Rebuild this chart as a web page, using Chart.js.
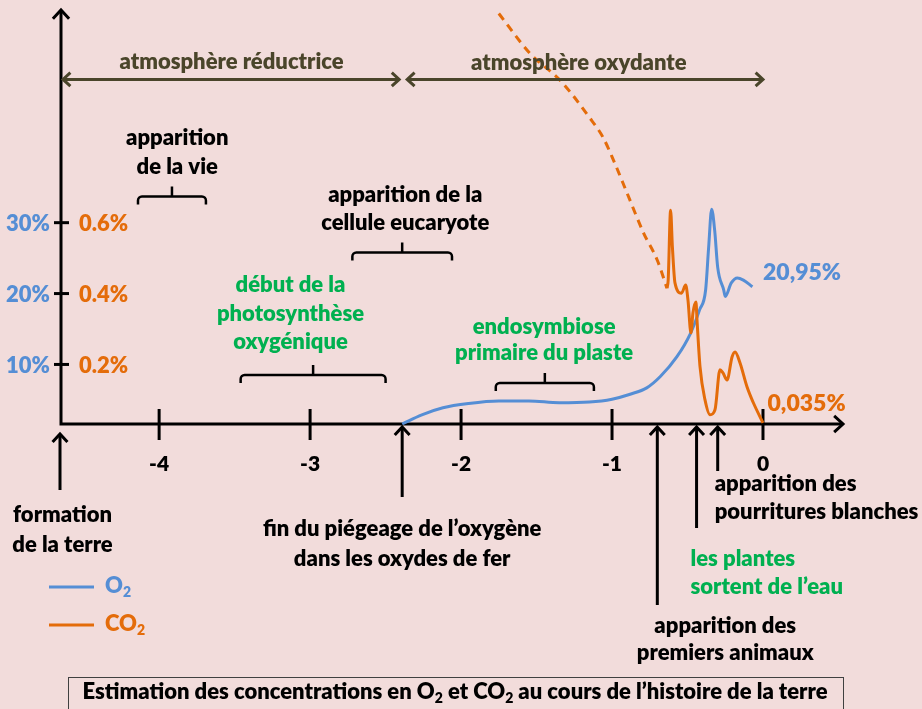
<!DOCTYPE html>
<html lang="fr">
<head>
<meta charset="utf-8">
<title>O2 et CO2 au cours de l’histoire de la terre</title>
<script src="https://cdn.jsdelivr.net/npm/chart.js@4.4.1/dist/chart.umd.min.js"></script>
<style>
  html, body { margin: 0; padding: 0; background: #f2dcdb; }
  canvas { display: block; }
</style>
</head>
<body>
<canvas id="histoireChart" width="922" height="709"></canvas>
<script>
// Ages in billions of years (Ga), O2 in % of atmosphere, CO2 in % of atmosphere
const ageTicks = [-4, -3, -2, -1, 0];
const o2Ticks = [10, 20, 30];
const o2TickLabels = ['10%', '20%', '30%'];
const co2TickLabels = ['0.2%', '0.4%', '0.6%'];

const o2Age = [-2.39, -2.26, -2.12, -1.95, -1.75, -1.55, -1.35, -1.15, -1.0, -0.88, -0.77, -0.68, -0.57,
  -0.48, -0.42, -0.38, -0.36, -0.34, -0.32, -0.30, -0.26, -0.25, -0.21, -0.17, -0.13, -0.07];
const o2Level = [1.6, 2.9, 3.9, 4.5, 4.85, 4.85, 4.6, 4.7, 5.1, 5.8, 6.7, 8.3, 11.1,
  14.4, 17.7, 20.5, 26.5, 31.9, 28.9, 23.7, 20.5, 19.6, 21.5, 22.2, 21.9, 20.95];

// estimated CO2 before the fossil record (dashed)
const co2EstAge = [-1.75, -1.54, -1.34, -1.15, -1.06, -0.99, -0.90, -0.79, -0.70, -0.636];
const co2EstLevel = [1.19, 1.076, 1.0, 0.897, 0.841, 0.776, 0.683, 0.570, 0.494, 0.415];

const co2Age = [-0.636, -0.628, -0.612, -0.600, -0.583, -0.54, -0.512, -0.497, -0.477, -0.464,
  -0.444, -0.437, -0.417, -0.384, -0.351, -0.318, -0.285, -0.265, -0.238, -0.205, -0.185,
  -0.152, -0.106, -0.066, 0];
const co2Level = [0.415, 0.438, 0.635, 0.531, 0.43, 0.401, 0.424, 0.382, 0.289, 0.345,
  0.376, 0.325, 0.193, 0.1, 0.058, 0.072, 0.185, 0.176, 0.156, 0.221, 0.235,
  0.204, 0.137, 0.094, 0.035];

// events marked with an arrow under the time axis
const arrowEvents = [-4.65, -2.39, -0.70, -0.44, -0.30];

// periods marked with a brace
const braceStart = [-4.14, -2.72, -3.46, -1.77];
const braceEnd = [-3.69, -2.06, -2.50, -1.12];
const braceLevel = [33.7, 25.8, 8.5, 7.4];

const BLUE = '#558ed5';
const ORANGE = '#e46c0a';
const GREEN = '#00b050';
const OLIVE = '#4a452a';
const FONT = 'Lato, "Open Sans", sans-serif';
const W = '800 ';

function toPoints(xs, ys) {
  return xs.map((x, i) => ({ x: x, y: ys[i] }));
}

function chevron(ctx, x, y, angle, size) {
  ctx.beginPath();
  ctx.moveTo(x + size * Math.cos(angle + 2.4), y + size * Math.sin(angle + 2.4));
  ctx.lineTo(x, y);
  ctx.lineTo(x + size * Math.cos(angle - 2.4), y + size * Math.sin(angle - 2.4));
  ctx.stroke();
}

function lines(ctx, rows, x, y, lh, color, align) {
  ctx.fillStyle = color;
  ctx.textAlign = align || 'center';
  ctx.textBaseline = 'middle';
  rows.forEach((r, i) => ctx.fillText(r, x, y + i * lh));
}

// text with subscripts: parts = [[text, isSub], ...]
function richText(ctx, parts, x, y, size, color, align) {
  const big = W + size + 'px ' + FONT;
  const small = W + Math.round(size * 0.65) + 'px ' + FONT;
  let w = 0;
  parts.forEach(p => { ctx.font = p[1] ? small : big; w += ctx.measureText(p[0]).width; });
  let cx = align === 'center' ? x - w / 2 : x;
  ctx.fillStyle = color;
  ctx.textAlign = 'left';
  ctx.textBaseline = 'middle';
  parts.forEach(p => {
    ctx.font = p[1] ? small : big;
    ctx.fillText(p[0], cx, p[1] ? y + size * 0.3 : y);
    cx += ctx.measureText(p[0]).width;
  });
}

const drawing = {
  id: 'drawing',
  beforeDraw(chart) {
    const ctx = chart.ctx;
    ctx.save();
    ctx.fillStyle = '#f2dcdb';
    ctx.fillRect(0, 0, chart.width, chart.height);
    ctx.restore();
  },
  beforeDatasetsDraw(chart) {
    const ctx = chart.ctx;
    const xs = chart.scales.x, ys = chart.scales.y;
    const area = chart.chartArea;
    const base = area.bottom, left = area.left;
    ctx.save();
    ctx.strokeStyle = '#000';
    ctx.lineWidth = 3;
    ctx.lineCap = 'butt';
    // axes
    ctx.beginPath();
    ctx.moveTo(left, area.top + 1);
    ctx.lineTo(left, base);
    ctx.lineTo(area.right - 1, base);
    ctx.stroke();
    chevron(ctx, left, area.top, -Math.PI / 2, 12);
    chevron(ctx, area.right, base, 0, 12);

    // time ticks
    ctx.font = W + '21px ' + FONT;
    ageTicks.forEach(t => {
      const px = xs.getPixelForValue(t);
      ctx.beginPath();
      ctx.moveTo(px, base - 15);
      ctx.lineTo(px, base + 16);
      ctx.stroke();
      lines(ctx, [String(t)], px, base + 40, 0, '#000');
    });

    // concentration ticks, O2 on the left, CO2 on the right
    ctx.font = W + '22px ' + FONT;
    o2Ticks.forEach((v, i) => {
      const py = ys.getPixelForValue(v);
      ctx.beginPath();
      ctx.moveTo(left - 7, py);
      ctx.lineTo(left + 8, py);
      ctx.stroke();
      lines(ctx, [o2TickLabels[i]], left - 11, py + 1, 0, BLUE, 'right');
      lines(ctx, [co2TickLabels[i]], left + 18, py + 1, 0, ORANGE, 'left');
    });
    ctx.restore();
  },
  afterDatasetsDraw(chart) {
    const ctx = chart.ctx;
    const xs = chart.scales.x, ys = chart.scales.y;
    const X = v => xs.getPixelForValue(v);
    const Y = v => ys.getPixelForValue(v);
    const base = chart.chartArea.bottom;
    ctx.save();
    ctx.lineCap = 'butt';
    ctx.lineJoin = 'miter';

    // reducing / oxidising atmosphere
    const ay = Y(50.2);
    ctx.strokeStyle = OLIVE;
    ctx.lineWidth = 3;
    [[-4.65, -2.41], [-2.37, 0]].forEach(seg => {
      const a = X(seg[0]) + 2, b = X(seg[1]);
      ctx.beginPath();
      ctx.moveTo(a, ay);
      ctx.lineTo(b, ay);
      ctx.stroke();
      chevron(ctx, a, ay, Math.PI, 10);
      chevron(ctx, b, ay, 0, 10);
    });
    ctx.font = W + '22px ' + FONT;
    lines(ctx, ['atmosphère réductrice'], X(-3.52), Y(52.7), 0, OLIVE);
    lines(ctx, ['atmosphère oxydante'], X(-1.22), Y(52.6), 0, OLIVE);

    // braces
    ctx.strokeStyle = '#000';
    ctx.lineWidth = 2.5;
    braceStart.forEach((s, i) => {
      const a = X(s), b = X(braceEnd[i]), by = Y(braceLevel[i]), m = (a + b) / 2;
      ctx.beginPath();
      ctx.moveTo(a, by + 8);
      ctx.arcTo(a, by, a + 5, by, 4);
      ctx.arcTo(b, by, b, by + 5, 4);
      ctx.lineTo(b, by + 8);
      ctx.moveTo(m, by);
      ctx.lineTo(m, by - 10);
      ctx.stroke();
    });

    // period labels
    lines(ctx, ['apparition', 'de la vie'], X(-3.88), Y(42.0), 29, '#000');
    lines(ctx, ['apparition de la', 'cellule eucaryote'], X(-2.37), Y(33.9), 28, '#000');
    lines(ctx, ['début de la', 'photosynthèse', 'oxygénique'], X(-3.13), Y(21.2), 28.5, GREEN);
    lines(ctx, ['endosymbiose', 'primaire du plaste'], X(-1.45), Y(15.3), 26, GREEN);

    // present-day values
    ctx.font = W + '23px ' + FONT;
    lines(ctx, ['20,95%'], X(0), Y(22.9), 0, BLUE, 'left');
    lines(ctx, ['0,035%'], X(0.03), Y(4.5), 0, ORANGE, 'left');

    // event arrows under the time axis
    const arrowEnds = [490, 497, 605, 528, 471];
    ctx.strokeStyle = '#000';
    ctx.lineWidth = 3;
    arrowEvents.forEach((t, i) => {
      const px = X(t) - (i === 0 ? 1 : 0);
      const top = i === 0 ? base + 10 : base + 3;
      ctx.beginPath();
      ctx.moveTo(px, top + 1);
      ctx.lineTo(px, arrowEnds[i]);
      ctx.stroke();
      chevron(ctx, px, top, -Math.PI / 2, 11);
    });

    ctx.font = W + '22px ' + FONT;
    lines(ctx, ['formation', 'de la terre'], X(-4.64), base + 91, 30, '#000');
    lines(ctx, ['fin du piégeage de l’oxygène', 'dans les oxydes de fer'], X(-2.39), base + 105, 30, '#000');
    lines(ctx, ['apparition des', 'pourritures blanches'], X(-0.32), base + 60, 28, '#000', 'left');
    lines(ctx, ['les plantes', 'sortent de l’eau'], X(-0.48), base + 135, 28, GREEN, 'left');
    lines(ctx, ['apparition des', 'premiers animaux'], X(-0.25), base + 202, 27, '#000');

    // legend
    ctx.lineWidth = 3;
    ctx.strokeStyle = BLUE;
    ctx.beginPath(); ctx.moveTo(49, 587); ctx.lineTo(94, 587); ctx.stroke();
    ctx.strokeStyle = ORANGE;
    ctx.beginPath(); ctx.moveTo(49, 625); ctx.lineTo(94, 625); ctx.stroke();
    richText(ctx, [['O', false], ['2', true]], 105, 586, 22, BLUE, 'left');
    richText(ctx, [['CO', false], ['2', true]], 105, 624, 22, ORANGE, 'left');

    // caption box
    ctx.strokeStyle = '#404040';
    ctx.lineWidth = 1;
    ctx.strokeRect(68.5, 677.5, 775, 40);
    richText(ctx, [['Estimation des concentrations en O', false], ['2', true], [' et CO', false],
      ['2', true], [' au cours de l’histoire de la terre', false]], 455, 692, 22, '#000', 'center');
    ctx.restore();
  }
};

const ctx = document.getElementById('histoireChart').getContext('2d');
const chart = new Chart(ctx, {
  type: 'line',
  data: {
    datasets: [{
      label: 'CO2',
      data: toPoints(co2Age, co2Level),
      yAxisID: 'y2',
      borderColor: ORANGE,
      borderWidth: 3,
      pointRadius: 0,
      cubicInterpolationMode: 'monotone',
      clip: false
    }, {
      label: 'CO2 estimé',
      data: toPoints(co2EstAge, co2EstLevel),
      yAxisID: 'y2',
      borderColor: ORANGE,
      borderWidth: 3,
      borderDash: [8, 6],
      pointRadius: 0,
      cubicInterpolationMode: 'monotone',
      clip: false
    }, {
      label: 'O2',
      data: toPoints(o2Age, o2Level),
      yAxisID: 'y',
      borderColor: BLUE,
      borderWidth: 3,
      pointRadius: 0,
      cubicInterpolationMode: 'monotone',
      clip: false
    }]
  },
  options: {
    responsive: false,
    animation: false,
    devicePixelRatio: 1,
    layout: { padding: { left: 61, right: 79, top: 10, bottom: 285 } },
    plugins: { legend: { display: false }, tooltip: { enabled: false } },
    scales: {
      x: { type: 'linear', min: -4.65, max: 0.53, display: false },
      y: { min: 1.6, max: 60, display: false },
      y2: { min: 0.032, max: 1.2, display: false }
    }
  },
  plugins: [drawing]
});
</script>
</body>
</html>
